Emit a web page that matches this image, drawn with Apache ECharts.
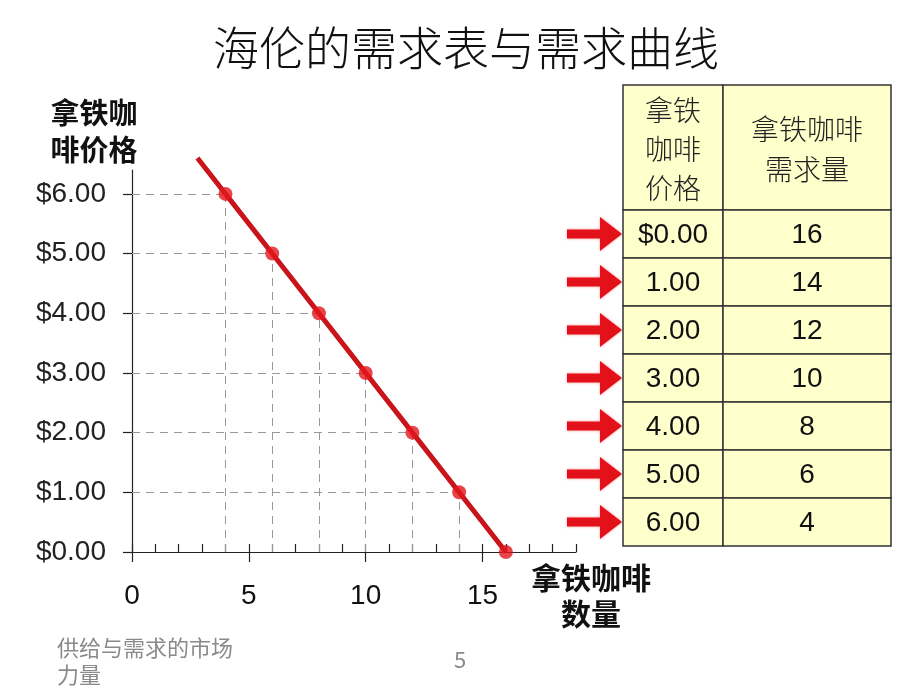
<!DOCTYPE html>
<html>
<head>
<meta charset="utf-8">
<script src="https://cdn.jsdelivr.net/npm/echarts@6/dist/echarts.min.js"></script>
<style>
html,body{margin:0;padding:0;background:#fff;}
#main{width:920px;height:690px;}
</style>
</head>
<body>
<div id="main"></div>
<script>
const titleText = '海伦的需求表与需求曲线';
const yAxisTitle = '拿铁咖\n啡价格';
const xAxisTitle = '拿铁咖啡\n数量';
const footerText = '供给与需求的市场\n力量';
const pageNumber = '5';

const prices = [0, 1, 2, 3, 4, 5, 6];
const quantities = [16, 14, 12, 10, 8, 6, 4];
const priceLabels = ['$0.00', '1.00', '2.00', '3.00', '4.00', '5.00', '6.00'];
const quantityLabels = ['16', '14', '12', '10', '8', '6', '4'];
const tableHeaders = ['拿铁\n咖啡\n价格', '拿铁咖啡\n需求量'];
const lineExtension = [2.8, 6.6];

const xMajorTicks = [0, 5, 10, 15];
const xMinorTicks = [0,1,2,3,4,5,6,7,8,9,10,11,12,13,14,15,16,17,18,19];
const yTicks = [0, 1, 2, 3, 4, 5, 6];

const chart = echarts.init(document.getElementById('main'));

const points = quantities.map((q, i) => [q, prices[i]]);
const linePoints = [lineExtension].concat(points);

const dropLines = [];
points.forEach(p => {
  if (p[1] > 0) {
    dropLines.push([{ coord: [0, p[1]] }, { coord: [p[0], p[1]] }]);
    dropLines.push([{ coord: [p[0], 0] }, { coord: [p[0], p[1]] }]);
  }
});

// table graphics
const tblLeft = 623, col1 = 100, col2 = 168, headH = 125, rowH = 48, tblTop = 85;
const graphics = [];
const cellStyle = { fill: '#FFFFCC', stroke: '#333', lineWidth: 1.5 };
graphics.push({ type: 'rect', shape: { x: tblLeft, y: tblTop, width: col1, height: headH }, style: cellStyle });
graphics.push({ type: 'rect', shape: { x: tblLeft + col1, y: tblTop, width: col2, height: headH }, style: cellStyle });
graphics.push({ type: 'text', x: tblLeft + col1 / 2, y: tblTop + headH / 2 + 2, style: {
  text: tableHeaders[0], font: '300 28px "Noto Sans CJK SC"', fill: '#222', align: 'center', verticalAlign: 'middle', lineHeight: 39 } });
graphics.push({ type: 'text', x: tblLeft + col1 + col2 / 2, y: tblTop + headH / 2 + 2, style: {
  text: tableHeaders[1], font: '300 28px "Noto Sans CJK SC"', fill: '#222', align: 'center', verticalAlign: 'middle', lineHeight: 40 } });
priceLabels.forEach((lab, i) => {
  const y = tblTop + headH + i * rowH;
  const c = y + rowH / 2;
  graphics.push({ type: 'rect', shape: { x: tblLeft, y: y, width: col1, height: rowH }, style: cellStyle });
  graphics.push({ type: 'rect', shape: { x: tblLeft + col1, y: y, width: col2, height: rowH }, style: cellStyle });
  graphics.push({ type: 'text', x: tblLeft + col1 / 2, y: c + 1, style: {
    text: lab, font: '28px "Liberation Sans", Arial', fill: '#111', align: 'center', verticalAlign: 'middle' } });
  graphics.push({ type: 'text', x: tblLeft + col1 + col2 / 2, y: c + 1, style: {
    text: quantityLabels[i], font: '28px "Liberation Sans", Arial', fill: '#111', align: 'center', verticalAlign: 'middle' } });
  graphics.push({ type: 'polygon', shape: { points: [
    [567, c - 4.5], [600, c - 4.5], [600, c - 17], [622, c], [600, c + 17], [600, c + 4.5], [567, c + 4.5]
  ] }, style: { fill: '#E3121A', shadowBlur: 3, shadowColor: 'rgba(255,110,110,0.7)' } });
});

// titles / text
graphics.push({ type: 'text', x: 466, y: 48, style: { text: titleText, font: '300 46px "Noto Sans CJK SC"', fill: '#111', align: 'center', verticalAlign: 'middle' } });
graphics.push({ type: 'text', x: 94, y: 131, style: { text: yAxisTitle, font: 'bold 29px "Noto Sans CJK SC"', fill: '#111', align: 'center', verticalAlign: 'middle', lineHeight: 37 } });
graphics.push({ type: 'text', x: 591, y: 596, style: { text: xAxisTitle, font: 'bold 30px "Noto Sans CJK SC"', fill: '#111', align: 'center', verticalAlign: 'middle', lineHeight: 36 } });
graphics.push({ type: 'text', x: 57, y: 661, style: { text: footerText, font: '22px "Noto Sans CJK SC"', fill: '#8a8a8a', align: 'left', verticalAlign: 'middle', lineHeight: 27 } });
graphics.push({ type: 'text', x: 460, y: 660, style: { text: pageNumber, font: '22px "Noto Sans CJK SC"', fill: '#8a8a8a', align: 'center', verticalAlign: 'middle' } });

const option = {
  backgroundColor: '#fff',
  animation: false,
  grid: { left: 132, top: 170, width: 444, height: 382, outerBoundsMode: 'none', containLabel: false },
  xAxis: [{
    type: 'value', min: 0, max: 19,
    axisLine: { show: true, lineStyle: { color: '#222', width: 1.2 } },
    axisTick: { show: true, customValues: xMajorTicks, length: 10, lineStyle: { color: '#222', width: 1.2 } },
    axisLabel: { customValues: xMajorTicks, margin: 30, color: '#111', fontSize: 28, fontFamily: '"Liberation Sans", Arial' },
    splitLine: { show: false }
  }, {
    type: 'value', min: 0, max: 19, position: 'bottom', offset: 0,
    axisLine: { show: false },
    axisTick: { show: true, inside: true, customValues: xMinorTicks, length: 8, lineStyle: { color: '#222', width: 1.2 } },
    axisLabel: { show: false },
    splitLine: { show: false }
  }],
  yAxis: {
    type: 'value', min: 0, max: 6.4,
    axisLine: { show: true, lineStyle: { color: '#222', width: 1.2 } },
    axisTick: { show: true, customValues: yTicks, length: 9, lineStyle: { color: '#222', width: 1.2 } },
    axisLabel: { customValues: yTicks, margin: 26, color: '#222', fontSize: 28, fontFamily: '"Liberation Sans", Arial',
      formatter: v => '$' + v.toFixed(2) },
    splitLine: { show: false }
  },
  series: [{
    type: 'line', data: linePoints, showSymbol: false, symbol: 'none', clip: false,
    lineStyle: { color: '#C8141A', width: 5 }, z: 3,
    markLine: { silent: true, symbol: 'none', label: { show: false },
      lineStyle: { color: '#999', width: 1, type: [8, 6] }, data: dropLines, z: 1 }
  }, {
    type: 'scatter', data: points, symbol: 'circle', symbolSize: 14, clip: false,
    itemStyle: { color: '#E3161B' }, z: 4
  }],
  graphic: graphics
};
chart.setOption(option);
</script>
</body>
</html>
